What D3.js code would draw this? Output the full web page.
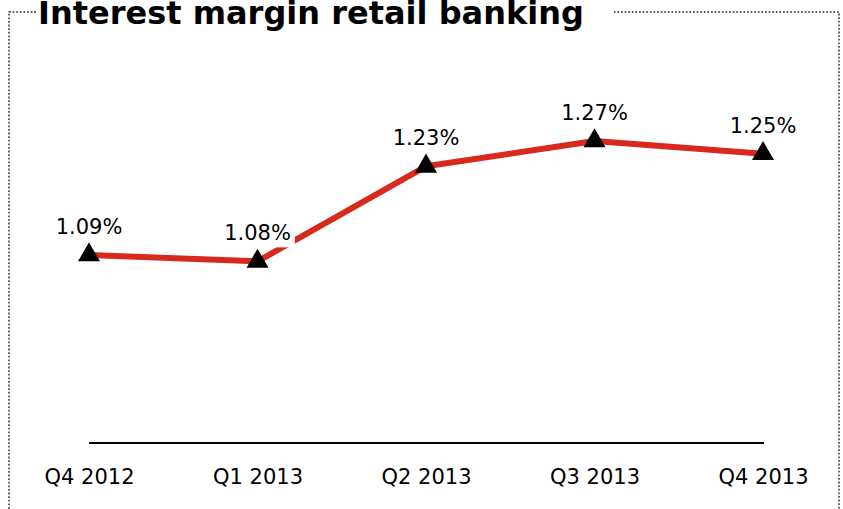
<!DOCTYPE html>
<html>
<head>
<meta charset="utf-8">
<script src="https://cdn.jsdelivr.net/npm/d3@7"></script>
<style>
  html, body { margin: 0; padding: 0; background: #fff; }
  svg { display: block; }
</style>
</head>
<body>
<svg id="chart" width="843" height="509"></svg>
<script>
// Quarterly interest margin, retail banking
const quarters = ["Q4 2012", "Q1 2013", "Q2 2013", "Q3 2013", "Q4 2013"];
const margins = [1.09, 1.08, 1.23, 1.27, 1.25];
const titleText = "Interest margin retail banking";

const svg = d3.select("#chart");

const x = d3.scalePoint().domain(quarters).range([89, 763]);
const y = d3.scaleLinear().domain([0.8, 1.3]).range([438.7, 122]);

// Dotted frame
svg.append("rect")
  .attr("x", 9).attr("y", 12)
  .attr("width", 830).attr("height", 520)
  .attr("fill", "none")
  .attr("stroke", "#333")
  .attr("stroke-width", 1.5)
  .attr("stroke-dasharray", "1.8,1.8");

// White backing behind the title interrupts the frame
svg.append("rect")
  .attr("x", 37).attr("y", 0)
  .attr("width", 614 - 37).attr("height", 30)
  .attr("fill", "#fff");

svg.append("text")
  .attr("x", 38).attr("y", 24)
  .attr("font-family", "DejaVu Sans, Verdana, sans-serif")
  .attr("font-weight", "bold")
  .attr("font-size", 32)
  .attr("fill", "#000")
  .text(titleText);

// Category axis with a plain baseline
const axis = svg.append("g").attr("transform", "translate(0,443)")
  .call(d3.axisBottom(x).tickSize(0).tickPadding(0));
axis.select(".domain").remove();
svg.append("line")
  .attr("x1", 89).attr("x2", 764)
  .attr("y1", 443).attr("y2", 443)
  .attr("stroke", "#000").attr("stroke-width", 2);
axis.selectAll(".tick text")
  .attr("y", 41)
  .attr("dy", 0)
  .attr("font-family", "DejaVu Sans, Verdana, sans-serif")
  .attr("font-size", 21)
  .attr("fill", "#000");

// Margin line
const line = d3.line().x((d, i) => x(quarters[i])).y(d => y(d));
svg.append("path")
  .datum(margins)
  .attr("d", line)
  .attr("fill", "none")
  .attr("stroke", "#d8291d")
  .attr("stroke-width", 6)
  .attr("stroke-linejoin", "round");

// Value labels on white boxes
const labels = svg.append("g");
margins.forEach((v, i) => {
  const g = labels.append("g");
  const t = g.append("text")
    .attr("x", x(quarters[i]))
    .attr("y", y(v) - 21)
    .attr("text-anchor", "middle")
    .attr("font-family", "DejaVu Sans, Verdana, sans-serif")
    .attr("font-size", 21)
    .attr("fill", "#000")
    .text(v.toFixed(2) + "%");
  const b = t.node().getBBox();
  g.insert("rect", "text")
    .attr("x", b.x - 4).attr("y", b.y)
    .attr("width", b.width + 8).attr("height", b.height + 2)
    .attr("fill", "#fff");
});

// Triangle markers
svg.append("g").selectAll("path")
  .data(margins)
  .join("path")
  .attr("transform", (d, i) => `translate(${x(quarters[i])},${y(d)})`)
  .attr("d", d3.symbol(d3.symbolTriangle, 210))
  .attr("fill", "#000");
</script>
</body>
</html>
